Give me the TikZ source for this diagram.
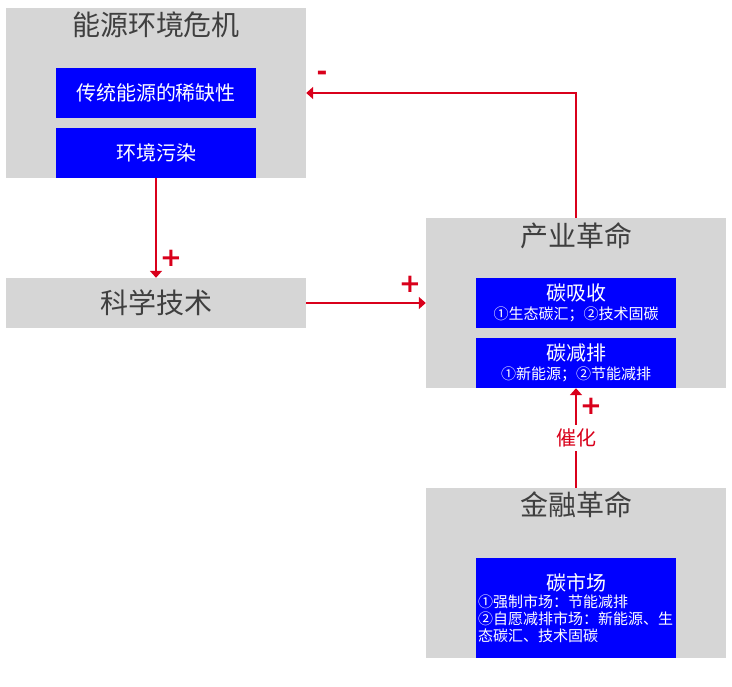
\documentclass[tikz,border=0pt]{standalone}
\usepackage{fontspec}
\setmainfont{Noto Sans CJK SC}
\newfontfamily\signfont{DejaVu Sans}
\usepackage{xcolor}
\usepackage{tikz}
\usetikzlibrary{arrows.meta,positioning}
\definecolor{panelgray}{HTML}{D6D6D6}
\definecolor{royal}{HTML}{0000FF}
\definecolor{signal}{HTML}{D9001B}
\definecolor{ink}{HTML}{3F3F3F}
\tikzset{
  panel/.style={
    rectangle, fill=panelgray, draw=none, inner sep=0pt,
    minimum width=300pt
  },
  paneltitle/.style={font=\fontsize{28}{32}\selectfont, text=ink, inner sep=0pt},
  bluebox/.style={
    rectangle, fill=royal, draw=none, text=white, align=center,
    inner sep=2pt, minimum width=200pt, minimum height=50pt,
    font=\fontsize{15}{19}\selectfont
  },
  link/.style={-{Triangle[length=7pt,width=12pt]}, line width=2pt, draw=signal},
  sign/.style={font=\signfont\bfseries\fontsize{26}{26}\selectfont, text=signal, inner sep=0pt},
  catalyst/.style={fill=white, text=signal, font=\fontsize{20}{24}\selectfont, inner sep=4pt}
}
\newcommand{\headline}[1]{{\fontsize{20}{24}\selectfont #1}}

\begin{document}
\begin{tikzpicture}[x=1pt,y=-1pt]
  \useasboundingbox (0,0) rectangle (732,687);

  % energy and environment crisis
  \node[panel, minimum height=170pt] (crisis) at (156,93) {};
  \node[paneltitle] (crisistitle) at (156,25) {能源环境危机};
  \node[bluebox, font=\fontsize{20}{24}\selectfont] (scarce) at (156,93) {传统能源的稀缺性};
  \node[bluebox, font=\fontsize{20}{24}\selectfont] (pollute) at (156,153) {环境污染};

  % science and technology
  \node[panel, paneltitle, minimum height=50pt] (sci) at (156,303) {科学技术};

  % industrial revolution
  \node[panel, minimum height=170pt] (ind) at (576,303) {};
  \node[paneltitle] (indtitle) at (576,236) {产业革命};
  \node[bluebox] (absorb) at (576,303) {\headline{碳吸收}\\①生态碳汇；②技术固碳};
  \node[bluebox] (reduce) at (576,363) {\headline{碳减排}\\①新能源；②节能减排};

  % financial revolution
  \node[panel, minimum height=170pt] (fin) at (576,573) {};
  \node[paneltitle] (fintitle) at (576,505) {金融革命};
  \node[bluebox, minimum height=100pt, text width=196pt, align=left,
        font=\fontsize{15}{17}\selectfont] (market) at (576,608)
     {\makebox[196pt]{\headline{碳市场}}\\①强制市场：节能减排\\②自愿减排市场：新能源、生\\态碳汇、技术固碳};

  % edges
  \draw[link] (crisis.south) -- (sci.north);
  \draw[link] (sci.east) -- (ind.west);
  \draw[link] (ind.north) |- (crisis.east);
  \draw[link] (fin.north) -- node[catalyst] (cat) {催化} (ind.south);

  % signs
  \node[sign] (plusa) at (171,258) {+};
  \node[sign] (plusb) at (410,284) {+};
  \node[sign] (minus) at (322,76) {-};
  \node[sign] (plusc) at (591,406) {+};
\end{tikzpicture}
\end{document}
